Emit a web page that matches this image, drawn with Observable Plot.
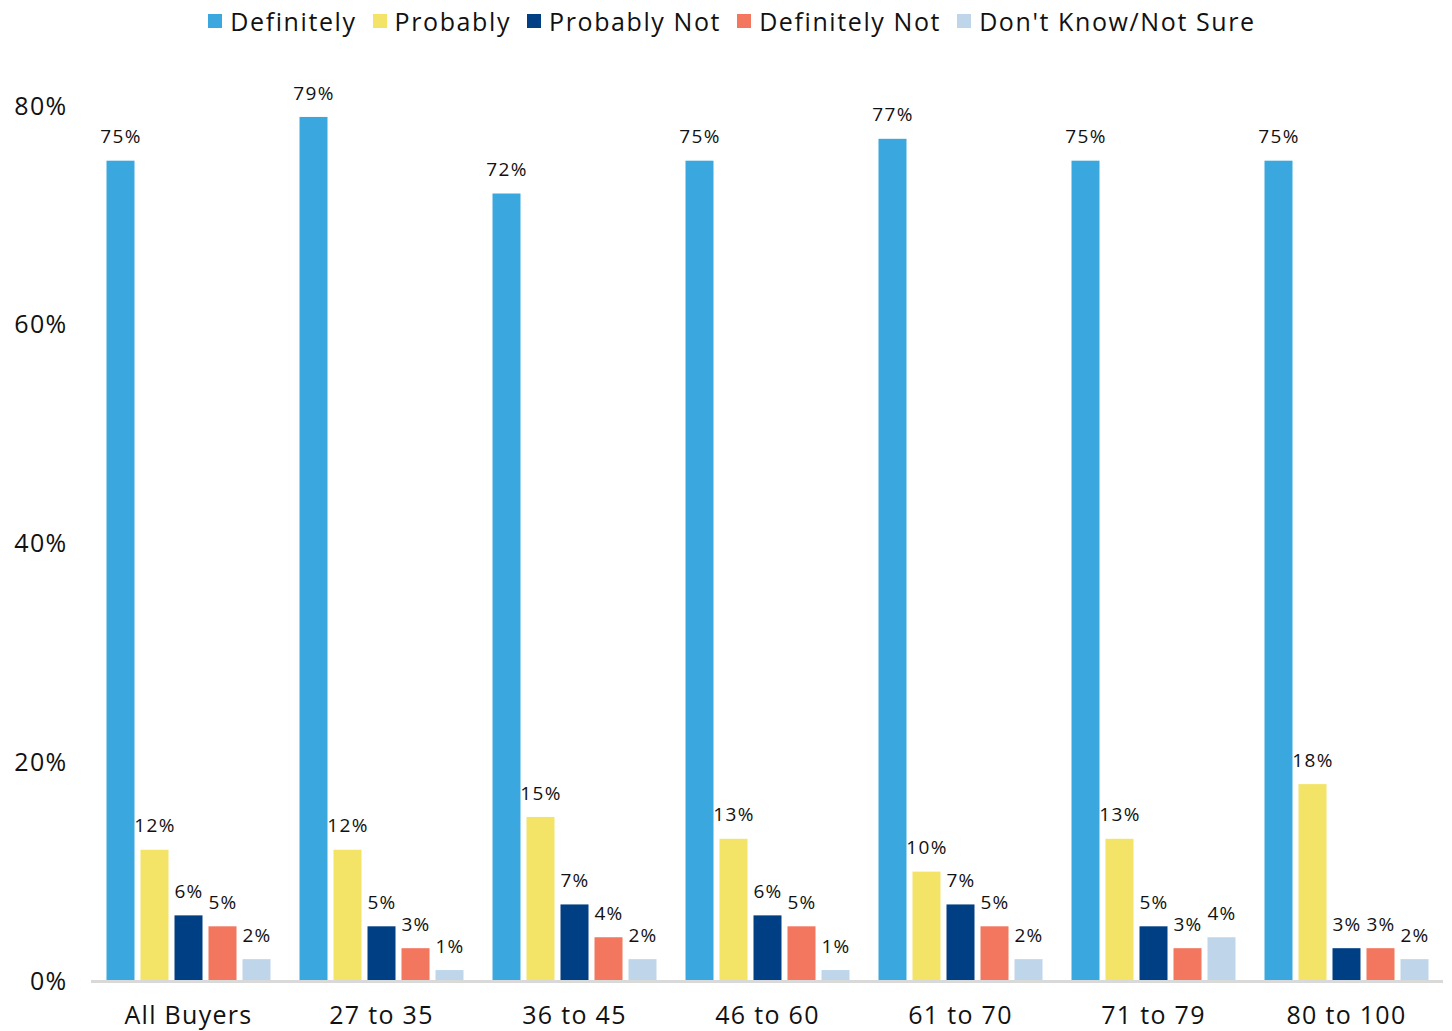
<!DOCTYPE html>
<html>
<head>
<meta charset="utf-8">
<script src="https://cdn.jsdelivr.net/npm/d3@7"></script>
<script src="https://cdn.jsdelivr.net/npm/@observablehq/plot@0.6"></script>
<style>
  html, body { margin: 0; padding: 0; background: #fff; }
  body { width: 1452px; height: 1031px; overflow: hidden; font-family: "Open Sans", sans-serif; color: #111; }
  #legend { height: 44px; display: flex; justify-content: center; align-items: center; font-size: 25px; letter-spacing: 1.6px; padding-left: 12px; padding-bottom: 2px; box-sizing: border-box; }
  .item { display: flex; align-items: center; margin: 0 8px; }
  .sw { width: 14px; height: 14px; margin-right: 8px; }
  svg text { letter-spacing: 1.3px; }
</style>
</head>
<body>
<div id="legend"></div>
<div id="chart"></div>
<script>
const groups = ["All Buyers", "27 to 35", "36 to 45", "46 to 60", "61 to 70", "71 to 79", "80 to 100"];
const series = ["Definitely", "Probably", "Probably Not", "Definitely Not", "Don't Know/Not Sure"];
const colors = ["#3AA8DF", "#F3E468", "#003F84", "#F3765E", "#BFD6EA"];
const definitely    = [75, 79, 72, 75, 77, 75, 75];
const probably      = [12, 12, 15, 13, 10, 13, 18];
const probablyNot   = [6, 5, 7, 6, 7, 5, 3];
const definitelyNot = [5, 3, 4, 5, 5, 3, 3];
const dontKnow      = [2, 1, 2, 1, 2, 4, 2];
const yTicks = [0, 20, 40, 60, 80];

const seriesValues = [definitely, probably, probablyNot, definitelyNot, dontKnow];
const data = [];
groups.forEach((g, i) => {
  series.forEach((s, j) => data.push({group: g, series: s, value: seriesValues[j][i]}));
});

const legend = document.getElementById("legend");
series.forEach((s, j) => {
  const it = document.createElement("div");
  it.className = "item";
  it.innerHTML = `<span class="sw" style="background:${colors[j]}"></span><span>${s}</span>`;
  legend.appendChild(it);
});

const chart = Plot.plot({
  width: 1452,
  height: 987,
  marginLeft: 90.5,
  marginRight: 8.5,
  marginTop: 62,
  marginBottom: 50,
  style: {fontFamily: "'Open Sans', sans-serif", color: "#111", background: "#fff"},
  fx: {domain: groups, paddingInner: 0.15, paddingOuter: 0.075, label: null},
  x: {domain: series, paddingInner: 0.18, paddingOuter: 0, axis: null},
  y: {domain: [0, 80], label: null},
  color: {domain: series, range: colors},
  marks: [
    Plot.axisY({ticks: yTicks, tickFormat: d => d + "%", tickSize: 0, tickPadding: 39, fontSize: 25, label: null}),
    Plot.axisFx({anchor: "bottom", tickSize: 0, tickPadding: 25, fontSize: 25, label: null}),
    Plot.barY(data, {fx: "group", x: "series", y: "value", fill: "series"}),
    Plot.ruleY([0], {stroke: "#d9d9d9", strokeWidth: 3, insetLeft: -15, insetRight: -15}),
    Plot.text(data, {fx: "group", x: "series", y: "value", text: d => d.value + "%", dy: -24, fontSize: 19, fill: "#111"})
  ]
});
document.getElementById("chart").appendChild(chart);
</script>
</body>
</html>
